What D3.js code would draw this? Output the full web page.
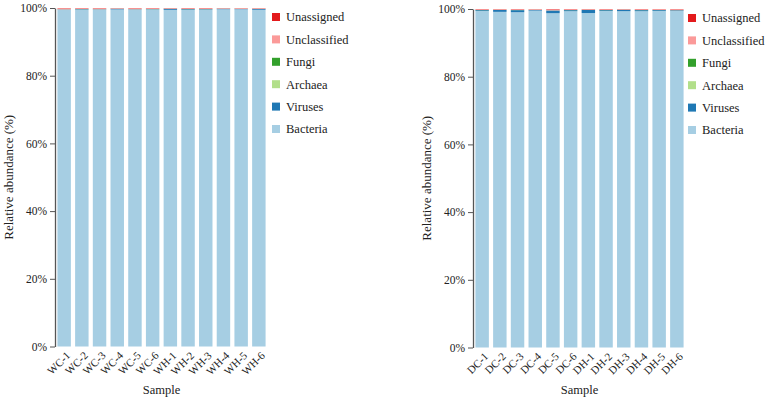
<!DOCTYPE html>
<html>
<head>
<meta charset="utf-8">
<script src="https://cdn.jsdelivr.net/npm/d3@7"></script>
<style>
  body { margin: 0; background: #fff; }
</style>
</head>
<body>
<svg id="chart" width="767" height="404"></svg>
<script>
// taxa, bottom to top in the stack
const taxa = ["Bacteria", "Viruses", "Archaea", "Fungi", "Unclassified", "Unassigned"];
const taxaColors = ["#a6cee3", "#1f78b4", "#b2df8a", "#33a02c", "#fb9a99", "#e31a1c"];
const legendOrder = ["Unassigned", "Unclassified", "Fungi", "Archaea", "Viruses", "Bacteria"];

const samplesW = ["WC-1", "WC-2", "WC-3", "WC-4", "WC-5", "WC-6", "WH-1", "WH-2", "WH-3", "WH-4", "WH-5", "WH-6"];
const samplesD = ["DC-1", "DC-2", "DC-3", "DC-4", "DC-5", "DC-6", "DH-1", "DH-2", "DH-3", "DH-4", "DH-5", "DH-6"];

// percent values per sample
const virusesW      = [0.10, 0.15, 0.10, 0.20, 0.10, 0.10, 0.30, 0.20, 0.15, 0.15, 0.10, 0.25];
const archaeaW      = [0.02, 0.02, 0.02, 0.02, 0.02, 0.02, 0.02, 0.02, 0.02, 0.02, 0.02, 0.02];
const fungiW        = [0.02, 0.02, 0.02, 0.02, 0.02, 0.02, 0.02, 0.02, 0.02, 0.02, 0.02, 0.02];
const unclassifiedW = [0.35, 0.25, 0.30, 0.15, 0.30, 0.25, 0.15, 0.25, 0.25, 0.15, 0.20, 0.20];
const unassignedW   = [0.05, 0.05, 0.05, 0.03, 0.05, 0.05, 0.05, 0.05, 0.05, 0.03, 0.03, 0.03];

const virusesD      = [0.25, 0.55, 0.60, 0.20, 0.80, 0.30, 0.90, 0.25, 0.40, 0.30, 0.25, 0.20];
const archaeaD      = [0.02, 0.02, 0.02, 0.02, 0.02, 0.02, 0.02, 0.02, 0.02, 0.02, 0.02, 0.02];
const fungiD        = [0.02, 0.02, 0.02, 0.02, 0.02, 0.02, 0.02, 0.02, 0.02, 0.02, 0.02, 0.02];
const unclassifiedD = [0.25, 0.20, 0.25, 0.20, 0.30, 0.25, 0.20, 0.25, 0.15, 0.25, 0.25, 0.30];
const unassignedD   = [0.05, 0.05, 0.05, 0.03, 0.10, 0.05, 0.05, 0.05, 0.05, 0.05, 0.03, 0.05];

const yTicks = [0, 20, 40, 60, 80, 100];
const FONT = "Liberation Serif";

function buildRows(samples, vir, arc, fun, uncl, unas) {
    return samples.map((s, i) => {
        const rest = vir[i] + arc[i] + fun[i] + uncl[i] + unas[i];
        return {
            sample: s,
            Bacteria: 100 - rest,
            Viruses: vir[i],
            Archaea: arc[i],
            Fungi: fun[i],
            Unclassified: uncl[i],
            Unassigned: unas[i]
        };
    });
}

const svg = d3.select("#chart");
const color = d3.scaleOrdinal().domain(taxa).range(taxaColors);

function drawPanel(rows, opts) {
    const g = svg.append("g").attr("font-family", FONT);

    const x = d3.scaleBand()
        .domain(rows.map(d => d.sample))
        .range([opts.x0, opts.x1])
        .paddingInner(0.24)
        .paddingOuter(0.08);

    const y = d3.scaleLinear()
        .domain([0, 100])
        .range([opts.yBottom, opts.yTop]);

    const series = d3.stack().keys(taxa)(rows);

    g.selectAll("g.layer")
        .data(series)
        .join("g")
        .attr("class", "layer")
        .attr("fill", d => color(d.key))
        .selectAll("rect")
        .data(d => d)
        .join("rect")
        .attr("x", d => x(d.data.sample))
        .attr("width", x.bandwidth())
        .attr("y", d => y(d[1]))
        .attr("height", d => y(d[0]) - y(d[1]));

    // y axis
    const yAxis = g.append("g")
        .attr("transform", `translate(${opts.axisX},0)`)
        .call(d3.axisLeft(y).tickValues(yTicks).tickFormat(d => d + "%").tickSize(5).tickSizeOuter(0));
    yAxis.attr("font-family", FONT);
    yAxis.select(".domain").attr("stroke", "#555").attr("stroke-width", 1.3);
    yAxis.selectAll(".tick line").attr("stroke", "#555");
    yAxis.selectAll("text")
        .attr("font-size", 11.5)
        .attr("font-family", FONT)
        .attr("fill", "#222");

    // x labels, rotated
    g.selectAll("text.xlab")
        .data(rows)
        .join("text")
        .attr("class", "xlab")
        .attr("transform", d => `translate(${x(d.sample) + x.bandwidth() / 2 + 4},${opts.yBottom + 7}) rotate(-45)`)
        .attr("text-anchor", "end")
        .attr("dy", "0.35em")
        .attr("font-size", 11)
        .attr("font-family", FONT)
        .attr("fill", "#222")
        .text(d => d.sample);

    g.append("text")
        .attr("x", (opts.x0 + opts.x1) / 2)
        .attr("y", 394)
        .attr("text-anchor", "middle")
        .attr("font-size", 12.5)
        .attr("font-family", FONT)
        .attr("fill", "#222")
        .text("Sample");

    g.append("text")
        .attr("transform", `translate(${opts.axisX - 42},${(opts.yTop + opts.yBottom) / 2}) rotate(-90)`)
        .attr("text-anchor", "middle")
        .attr("font-size", 13)
        .attr("font-family", FONT)
        .attr("fill", "#222")
        .text("Relative abundance (%)");

    // legend
    const leg = g.selectAll("g.leg")
        .data(legendOrder)
        .join("g")
        .attr("class", "leg")
        .attr("transform", (d, i) => `translate(${opts.legendX},${opts.legendY + i * 22.4})`);
    leg.append("rect")
        .attr("x", 0)
        .attr("y", -4)
        .attr("width", 8)
        .attr("height", 8)
        .attr("fill", d => color(d));
    leg.append("text")
        .attr("x", 14)
        .attr("dy", "0.35em")
        .attr("font-size", 12.5)
        .attr("font-family", FONT)
        .attr("fill", "#222")
        .text(d => d);
}

drawPanel(buildRows(samplesW, virusesW, archaeaW, fungiW, unclassifiedW, unassignedW), {
    axisX: 55, x0: 56, x1: 267, yTop: 8, yBottom: 346.5, legendX: 272, legendY: 17
});

drawPanel(buildRows(samplesD, virusesD, archaeaD, fungiD, unclassifiedD, unassignedD), {
    axisX: 473, x0: 474, x1: 685, yTop: 9, yBottom: 347.5, legendX: 688, legendY: 18
});
</script>
</body>
</html>
